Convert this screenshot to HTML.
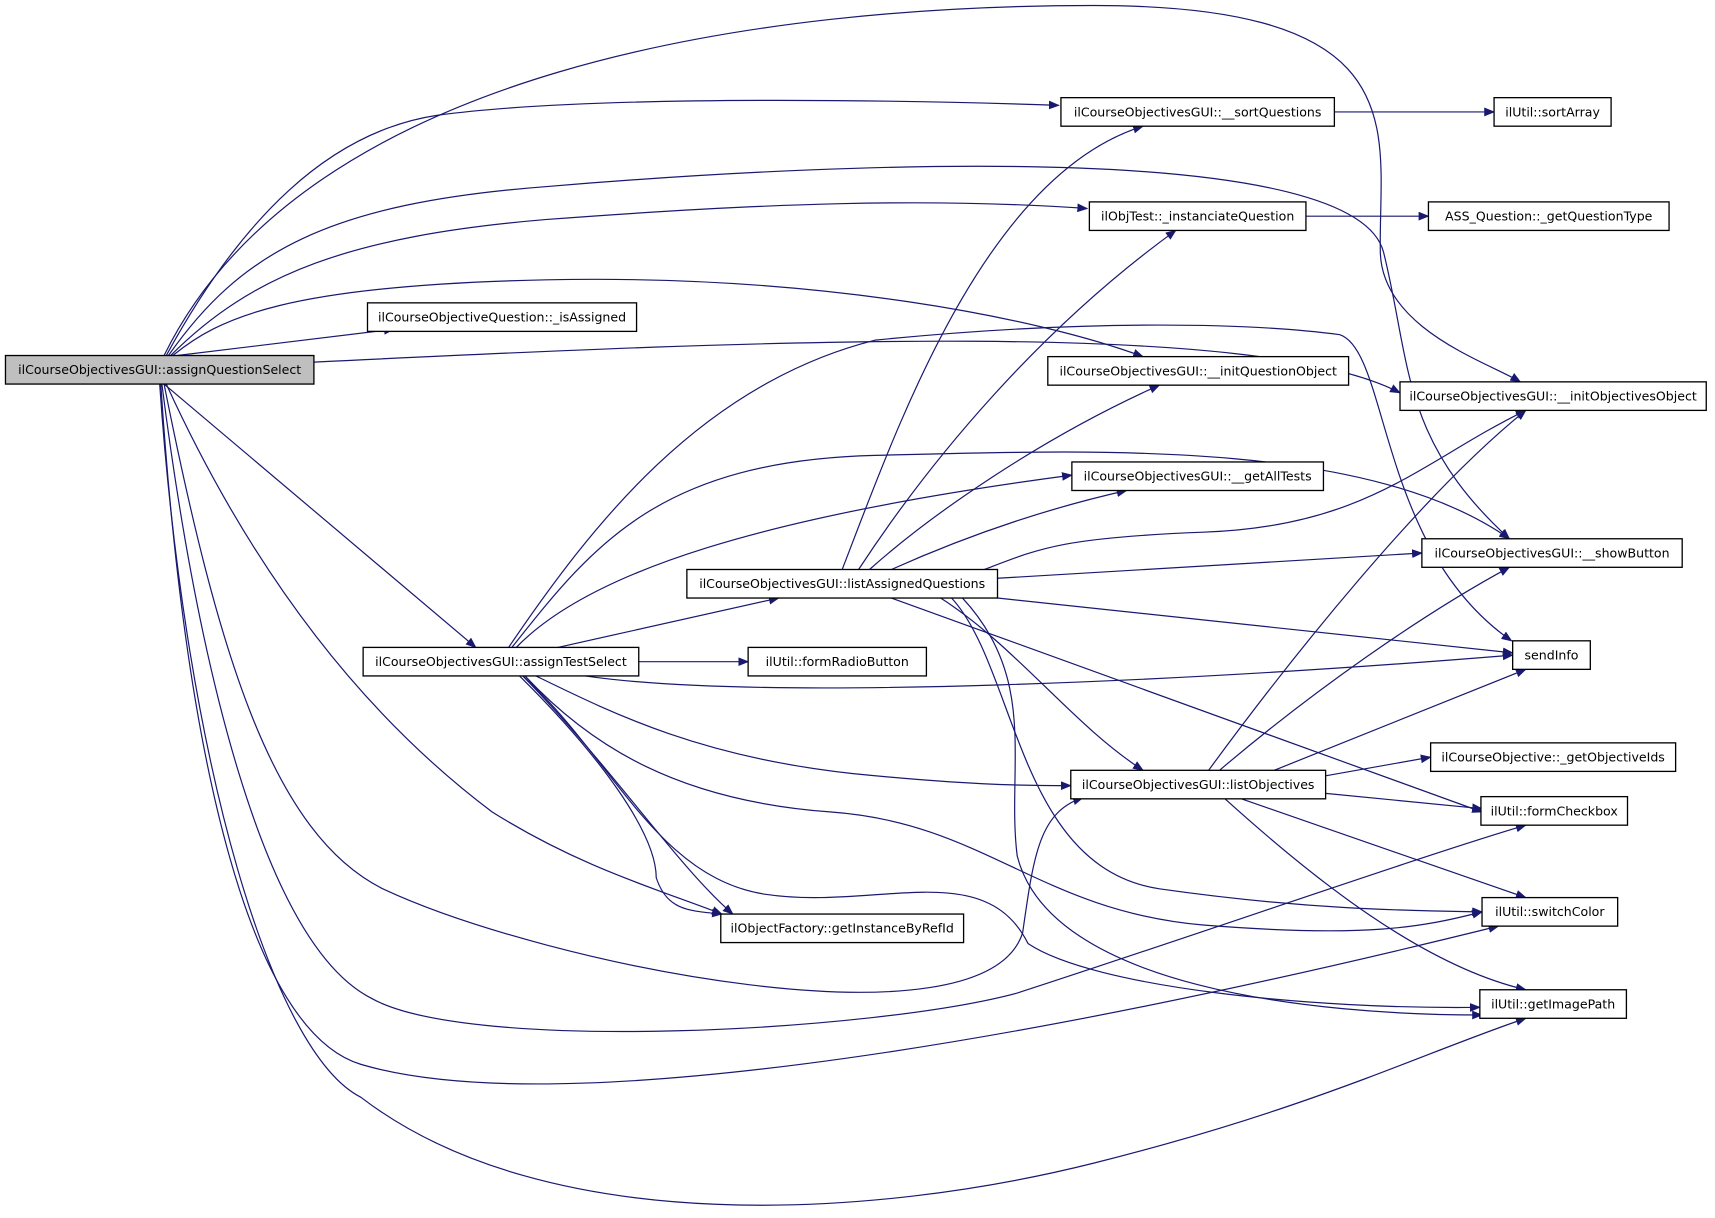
<!DOCTYPE html>
<html><head><meta charset="utf-8"><style>
html,body{margin:0;padding:0;background:#fff;}
svg{display:block;}
text{font-family:"DejaVu Sans","Liberation Sans",sans-serif;font-size:11.5px;fill:#000;}
.n{fill:#fff;stroke:#000;stroke-width:1.2;}
.e{fill:none;stroke:#191970;stroke-width:1.1;marker-end:url(#a);}
</style></head><body>
<svg width="1715" height="1218" viewBox="0 0 1568 1110" preserveAspectRatio="none" xmlns="http://www.w3.org/2000/svg">
<defs><marker id="a" markerWidth="10" markerHeight="8" refX="9" refY="4" orient="auto" markerUnits="userSpaceOnUse"><path d="M0,0 L10,4 L0,8 z" fill="#191970"/></marker></defs>
<g>
<path class="e" d="M150,324 C280,60 700,5 1000,5 C1300,5 1260,120 1262,230 C1264,300 1360,330 1390,348"/>
<path class="e" d="M152,324 C220,200 300,120 400,105 C550,85 850,92 968,96"/>
<path class="e" d="M154,324 C220,230 300,185 500,170 C800,145 1240,130 1265,230 C1290,330 1280,400 1380,491"/>
<path class="e" d="M156,324 C230,250 320,215 500,200 C700,185 850,180 994,190"/>
<path class="e" d="M158,324 C200,290 260,260 500,255 C750,250 950,290 1045,325"/>
<path class="e" d="M162,324 L360,300"/>
<path class="e" d="M287,330 C700,310 1150,290 1280,358"/>
<path class="e" d="M150,350 L435,590"/>
<path class="e" d="M152,350 C230,520 330,650 450,740 C530,790 600,810 660,833"/>
<path class="e" d="M150,350 C200,600 250,760 350,810 C500,880 900,960 935,850 C945,780 950,740 990,727"/>
<path class="e" d="M148,350 C180,600 240,860 340,910 C430,960 800,940 930,905 C1100,850 1300,780 1395,752"/>
<path class="e" d="M147,350 C170,700 230,940 330,970 C500,1020 900,960 1370,844"/>
<path class="e" d="M146,350 C170,700 250,960 330,1000 C500,1130 800,1110 1000,1060 C1200,1010 1300,960 1395,928"/>

<path class="e" d="M465,590 C540,480 640,350 800,310 C1000,290 1150,295 1225,305 C1270,320 1260,500 1382,584"/>
<path class="e" d="M468,590 C540,500 600,420 800,415 C1000,410 1250,400 1380,491"/>
<path class="e" d="M472,590 C540,520 700,470 980,433"/>
<path class="e" d="M510,590 L712,545"/>
<path class="e" d="M584,603 L684,603"/>
<path class="e" d="M535,616 C700,640 1100,620 1383,597"/>
<path class="e" d="M490,616 C560,650 640,690 780,705 C880,715 930,716 979,716"/>
<path class="e" d="M480,616 C540,680 620,730 760,740 C900,750 950,830 1100,843 C1250,855 1300,845 1355,831"/>
<path class="e" d="M478,616 C560,690 600,800 700,815 C800,830 900,780 940,860 C1000,900 1200,920 1353,918"/>
<path class="e" d="M475,616 C550,690 600,760 600,800 C610,830 630,830 660,833"/>
<path class="e" d="M478,616 C560,700 620,790 670,833"/>

<path class="e" d="M770,519 C820,390 900,160 1045,115"/>
<path class="e" d="M785,519 C850,420 950,300 1075,210"/>
<path class="e" d="M795,519 C850,470 950,400 1060,351"/>
<path class="e" d="M815,519 C880,490 950,465 1030,447"/>
<path class="e" d="M900,519 C950,500 970,490 1100,485 C1250,480 1300,420 1395,374"/>
<path class="e" d="M912,527 L1300,504"/>
<path class="e" d="M912,545 L1383,595"/>
<path class="e" d="M815,545 L1355,740"/>
<path class="e" d="M860,545 C930,590 980,660 1045,702"/>
<path class="e" d="M870,545 C930,610 930,790 1060,810 C1200,830 1300,830 1355,831"/>
<path class="e" d="M880,545 C950,620 920,700 930,780 C960,900 1200,925 1355,925"/>

<path class="e" d="M1105,702 C1180,600 1300,450 1395,374"/>
<path class="e" d="M1115,702 C1200,630 1300,560 1380,517"/>
<path class="e" d="M1165,702 L1395,610"/>
<path class="e" d="M1212,707 L1308,690"/>
<path class="e" d="M1212,723 L1355,737"/>
<path class="e" d="M1135,728 L1395,818"/>
<path class="e" d="M1120,728 C1200,800 1300,880 1395,902"/>
<path class="e" d="M1220,102 L1366,102"/>
<path class="e" d="M1194,197 L1306,197"/>
</g>
<g>
<rect x="5" y="324" width="282" height="26" style="fill:#bfbfbf;stroke:#000;stroke-width:1.2"/><text x="146" y="341" text-anchor="middle">ilCourseObjectivesGUI::assignQuestionSelect</text>
<rect class="n" x="970" y="89" width="250" height="26"/><text x="1095" y="106" text-anchor="middle">ilCourseObjectivesGUI::__sortQuestions</text>
<rect class="n" x="1366" y="89" width="107" height="26"/><text x="1419.5" y="106" text-anchor="middle">ilUtil::sortArray</text>
<rect class="n" x="996" y="184" width="198" height="26"/><text x="1095" y="201" text-anchor="middle">ilObjTest::_instanciateQuestion</text>
<rect class="n" x="1306" y="184" width="220" height="26"/><text x="1416" y="201" text-anchor="middle">ASS_Question::_getQuestionType</text>
<rect class="n" x="336" y="276" width="246" height="26"/><text x="459" y="293" text-anchor="middle">ilCourseObjectiveQuestion::_isAssigned</text>
<rect class="n" x="958" y="325" width="275" height="26"/><text x="1095.5" y="342" text-anchor="middle">ilCourseObjectivesGUI::__initQuestionObject</text>
<rect class="n" x="1280" y="348" width="280" height="26"/><text x="1420" y="365" text-anchor="middle">ilCourseObjectivesGUI::__initObjectivesObject</text>
<rect class="n" x="980" y="421" width="230" height="26"/><text x="1095" y="438" text-anchor="middle">ilCourseObjectivesGUI::__getAllTests</text>
<rect class="n" x="1300" y="491" width="238" height="26"/><text x="1419" y="508" text-anchor="middle">ilCourseObjectivesGUI::__showButton</text>
<rect class="n" x="628" y="519" width="284" height="26"/><text x="770" y="536" text-anchor="middle">ilCourseObjectivesGUI::listAssignedQuestions</text>
<rect class="n" x="332" y="590" width="252" height="26"/><text x="458" y="607" text-anchor="middle">ilCourseObjectivesGUI::assignTestSelect</text>
<rect class="n" x="684" y="590" width="163" height="26"/><text x="765.5" y="607" text-anchor="middle">ilUtil::formRadioButton</text>
<rect class="n" x="1383" y="584" width="71" height="26"/><text x="1418.5" y="601" text-anchor="middle">sendInfo</text>
<rect class="n" x="1308" y="677" width="224" height="26"/><text x="1420" y="694" text-anchor="middle">ilCourseObjective::_getObjectiveIds</text>
<rect class="n" x="979" y="702" width="233" height="26"/><text x="1095.5" y="719" text-anchor="middle">ilCourseObjectivesGUI::listObjectives</text>
<rect class="n" x="1354" y="726" width="134" height="26"/><text x="1421" y="743" text-anchor="middle">ilUtil::formCheckbox</text>
<rect class="n" x="1355" y="818" width="124" height="26"/><text x="1417" y="835" text-anchor="middle">ilUtil::switchColor</text>
<rect class="n" x="659" y="833" width="222" height="26"/><text x="770" y="850" text-anchor="middle">ilObjectFactory::getInstanceByRefId</text>
<rect class="n" x="1353" y="902" width="134" height="26"/><text x="1420" y="919" text-anchor="middle">ilUtil::getImagePath</text>
</g>
</svg>
</body></html>
